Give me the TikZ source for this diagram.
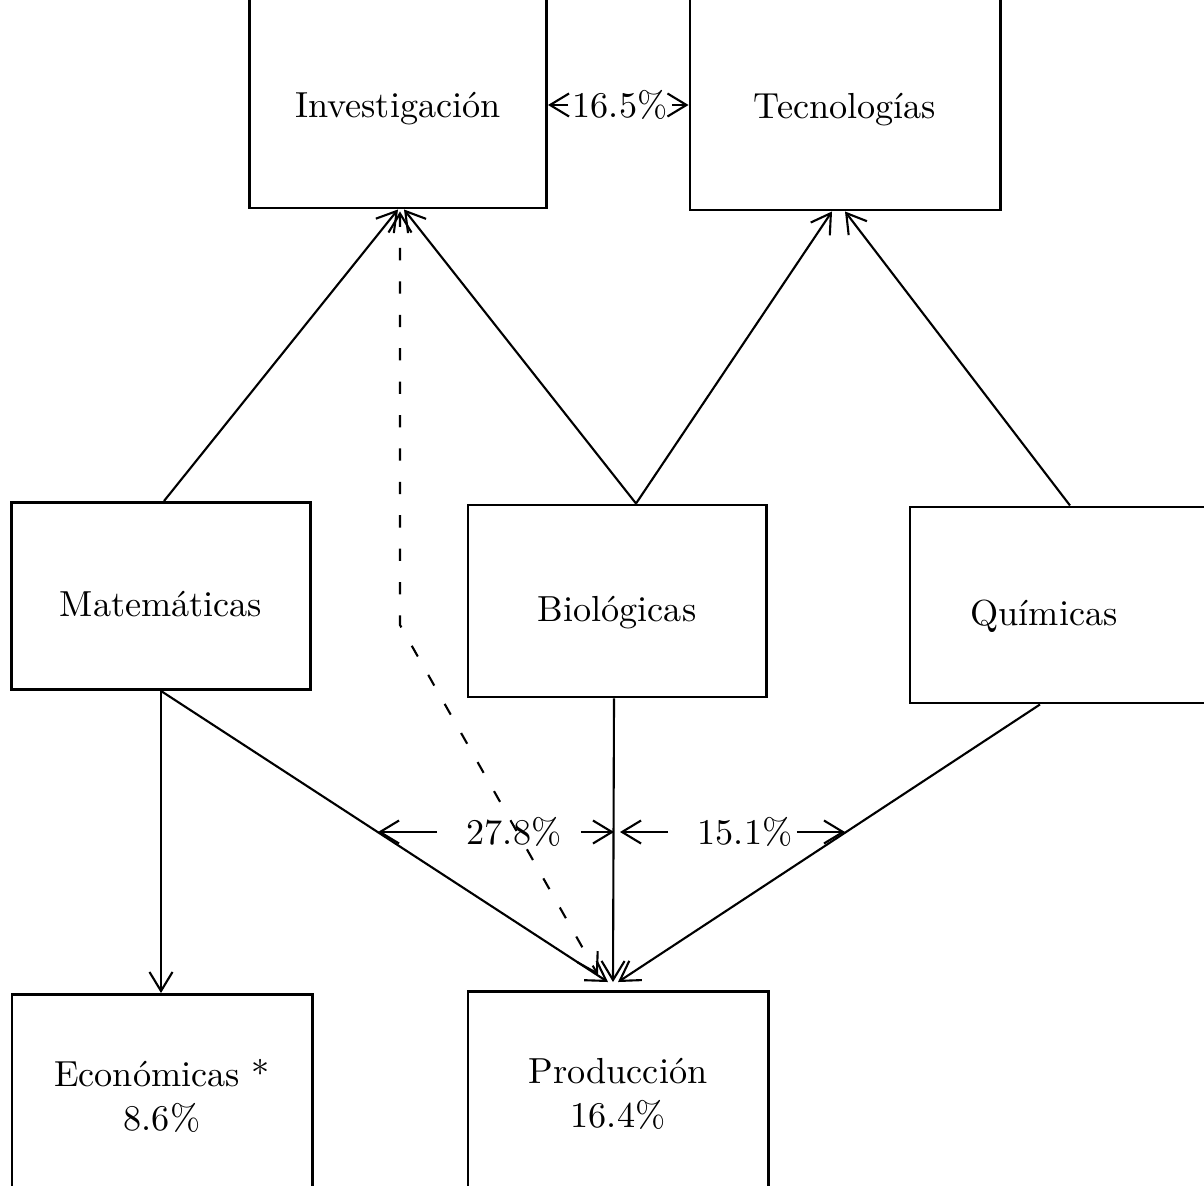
\documentclass[tikz,border=0pt]{standalone}
\usetikzlibrary{arrows.meta, calc}

\begin{document}
\begin{tikzpicture}[x=0.01cm,y=-0.01cm,line width=0.6pt,
		font=\fontsize{10.3pt}{12.6pt}\selectfont,
		>={Straight Barb[length=1.9mm,width=2.3mm]},
		box/.style = {draw,line width=0.8pt,minimum width=3cm,minimum height=1.9cm,align=center},
		onetxt/.style = {text height=0.5cm,text depth=0.1cm},
		pct/.style = {inner sep=1pt}]
		\clip (0,0) rectangle (1204,1186);
		% cajas
		\node [box, onetxt, minimum width=2.97cm, minimum height=2.2cm] (inv) at (398,98) {Investigación};
		\node [box, onetxt, minimum width=3.1cm, minimum height=2.22cm] (tec) at (845,99) {Tecnologías};
		\node [box, onetxt, minimum width=2.99cm, minimum height=1.87cm] (mat) at (161,596) {Matemáticas};
		\node [box, onetxt, minimum width=2.98cm, minimum height=1.92cm] (bio) at (617,601) {Biológicas};
		\node [box, onetxt, minimum width=3.04cm, minimum height=1.96cm] (qui) at (1062,605) {Químicas\hspace*{0.36cm}};
		\node [box, minimum width=3cm, minimum height=2.03cm] (eco) at (162,1096) {Económicas *\\8.6\%};
		\node [box, minimum width=3cm, minimum height=2.05cm] (pro) at (618,1094) {Producción\\16.4\%};
		% flechas
		\draw [->] ([xshift=0.03cm]mat.north) -- (inv.south);
		\draw [->] ([xshift=0.19cm]bio.north) -- ([xshift=0.06cm]inv.south);
		\draw [->] ([xshift=0.19cm]bio.north) -- ([xshift=-0.13cm]tec.south);
		\draw [->] ([xshift=0.08cm]qui.north) -- (tec.south);
		\draw [->] (mat.south) -- (mat.south |- eco.north);
		\draw [->] (mat.south) -- ([xshift=-0.1cm,yshift=0.08cm]pro.north);
		\draw [->] ([xshift=-0.03cm]bio.south) -- ([xshift=-0.05cm,yshift=0.08cm]pro.north);
		\coordinate (quo) at ([xshift=-0.22cm]qui.south);
		\draw [->] (quo) -- ([xshift=0.0cm,yshift=0.08cm]pro.north);
		\coordinate (dob) at (400,625);
		\draw [<->, dash pattern=on 3.5pt off 6pt] ([xshift=0.02cm,yshift=-0.02cm]inv.south) -- (dob) -- (598,975);
		% porcentajes
		\node [pct] (p1) at (620,105) {16.5\%};
		\draw [->] (p1.west) -- (inv.east |- p1.west);
		\draw [->] (p1.east) -- (tec.west |- p1.east);
		\node [pct] (p2) at (514,832) {27.8\%};
		\coordinate (a2) at (378,832);
		\draw [->] ([xshift=-0.25cm]p2.west) -- (a2);
		\draw [->] ([xshift=0.15cm]p2.east) -- ([xshift=-0.03cm]bio.south |- p2.east);
		\node [pct] (p3) at (745,832) {15.1\%};
		\coordinate (a3) at (845,832);
		\draw [->] ([xshift=-0.25cm]p3.west) -- ([xshift=0.03cm]bio.south |- p3.west);
		\draw [->] (p3.east) -- (a3);
	\end{tikzpicture}
\end{document}
